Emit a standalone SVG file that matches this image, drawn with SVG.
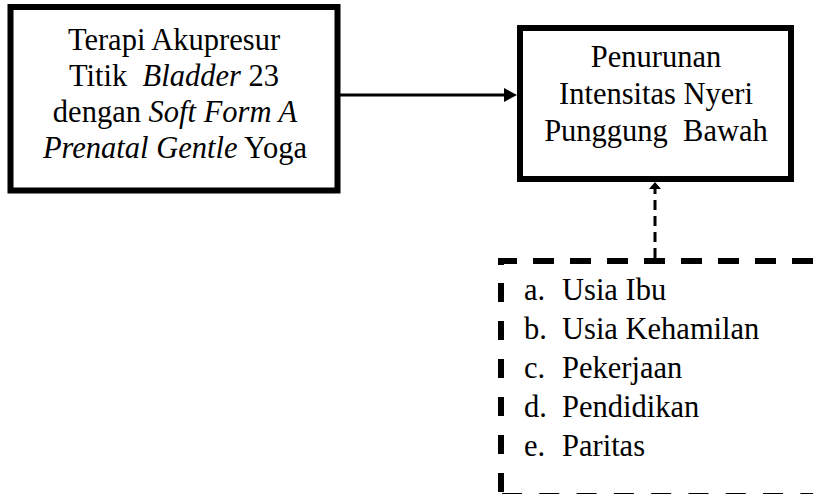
<svg xmlns="http://www.w3.org/2000/svg" width="813" height="494" viewBox="0 0 813 494">
<style>
.box{fill:#fff;stroke:#000;stroke-width:6}
.t{font-family:"Liberation Serif","Times New Roman",serif;font-size:30.5px;fill:#000}
.c{text-anchor:middle}
.i{font-style:italic}
.dash{stroke:#000;stroke-width:6;fill:none}
</style>
<rect width="813" height="494" fill="#fff"/>
<g id="node-intervensi">
<rect class="box" x="10.5" y="7" width="327" height="183.5"/>
<text class="t c" x="174" y="50">Terapi Akupresur</text>
<text class="t c" x="174" y="86" xml:space="preserve">Titik  <tspan class="i">Bladder</tspan> 23</text>
<text class="t c" x="175" y="122">dengan <tspan class="i">Soft Form A</tspan></text>
<text class="t c" x="175" y="158"><tspan class="i">Prenatal Gentle</tspan> Yoga</text>
</g>
<g id="node-hasil">
<rect class="box" x="520" y="28" width="271" height="151"/>
<text class="t c" x="656" y="67">Penurunan</text>
<text class="t c" x="656" y="104">Intensitas Nyeri</text>
<text class="t c" x="656" y="141" xml:space="preserve">Punggung  Bawah</text>
</g>
<g id="node-faktor">
<line class="dash" x1="498" y1="261" x2="816" y2="261" stroke-dasharray="21 16" stroke-dashoffset="2"/>
<line class="dash" x1="501" y1="258" x2="501" y2="265"/>
<line class="dash" x1="501" y1="283" x2="501" y2="498" stroke-dasharray="19 19"/>
<line class="dash" x1="502" y1="496" x2="816" y2="496" stroke-dasharray="20 17.3"/>
<text class="t" x="524" y="300">a.</text><text class="t" x="562" y="300">Usia Ibu</text>
<text class="t" x="524" y="339">b.</text><text class="t" x="562" y="339">Usia Kehamilan</text>
<text class="t" x="524" y="378">c.</text><text class="t" x="562" y="378">Pekerjaan</text>
<text class="t" x="524" y="417">d.</text><text class="t" x="562" y="417">Pendidikan</text>
<text class="t" x="524" y="456">e.</text><text class="t" x="562" y="456">Paritas</text>
</g>
<g id="connectors">
<line x1="340" y1="95" x2="506" y2="95" stroke="#000" stroke-width="3"/>
<polygon points="504,88 517,95 504,102" fill="#000"/>
<line x1="655" y1="258" x2="655" y2="188" stroke="#000" stroke-width="3" stroke-dasharray="10 6"/>
<polygon points="649,189 655,182 661,189" fill="#000"/>
</g>
</svg>
